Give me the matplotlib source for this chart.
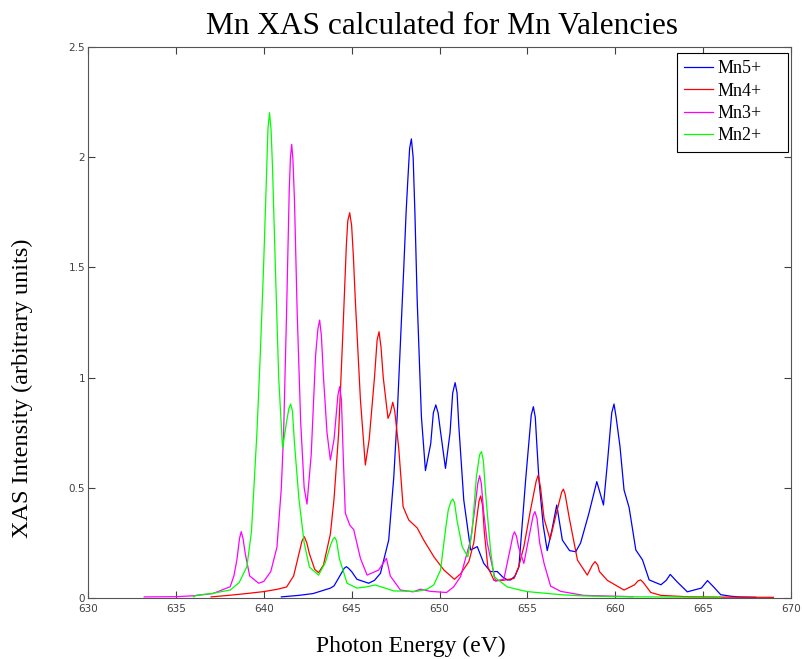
import matplotlib
matplotlib.use("Agg")
import matplotlib.pyplot as plt

# ---- data ----
mn5_E = [641.0, 642.0, 642.8, 643.2, 643.8, 644.0, 644.4, 644.58, 644.7, 644.82, 645.0, 645.3, 645.97,
         646.3, 646.64, 647.11, 647.4, 647.59, 647.8, 647.97, 648.1, 648.2, 648.3, 648.4, 648.5, 648.6,
         648.73, 648.97, 649.2, 649.5, 649.65, 649.79, 649.92, 650.05, 650.34, 650.6, 650.75, 650.89,
         651.0, 651.1, 651.38, 651.77, 652.15, 652.52, 652.9, 653.29, 653.6, 653.86, 654.05, 654.3,
         654.52, 654.9, 655.1, 655.22, 655.34, 655.45, 655.55, 655.66, 655.9, 656.13, 656.4, 656.67,
         656.99, 657.4, 657.75, 658.03, 658.5, 658.95, 659.33, 659.55, 659.8, 659.93, 660.05, 660.27,
         660.5, 660.79, 661.17, 661.55, 661.93, 662.6, 662.9, 663.13, 663.5, 664.1, 664.9, 665.25,
         665.6, 666.0, 666.58, 667.0, 668.0]
mn5_I = [0.005, 0.012, 0.02, 0.03, 0.045, 0.055, 0.11, 0.135, 0.142, 0.135, 0.12, 0.085, 0.067,
         0.08, 0.112, 0.263, 0.55, 0.823, 1.2, 1.503, 1.75, 1.9, 2.04, 2.083, 2.0, 1.75,
         1.352, 0.823, 0.578, 0.70, 0.84, 0.876, 0.84, 0.76, 0.588, 0.75, 0.93, 0.977,
         0.93, 0.78, 0.445, 0.218, 0.233, 0.157, 0.12, 0.12, 0.095, 0.082, 0.082, 0.10,
         0.142, 0.535, 0.72, 0.83, 0.868, 0.82, 0.68, 0.535, 0.33, 0.215, 0.31, 0.422,
         0.263, 0.215, 0.21, 0.25, 0.384, 0.528, 0.422, 0.61, 0.84, 0.88, 0.82, 0.687,
         0.49, 0.41, 0.218, 0.173, 0.082, 0.06, 0.08, 0.107, 0.075, 0.028, 0.045, 0.079,
         0.05, 0.015, 0.008, 0.005, 0.003]

mn4_E = [637.0, 638.0, 639.0, 640.0, 640.8, 641.3, 641.7, 642.0, 642.18, 642.31, 642.45, 642.6, 642.9,
         643.12, 643.4, 643.79, 644.0, 644.26, 644.5, 644.7, 644.78, 644.89, 645.0, 645.1, 645.21,
         645.5, 645.78, 646.0, 646.3, 646.45, 646.56, 646.67, 646.8, 647.07, 647.2, 647.34, 647.45,
         647.68, 647.93, 648.25, 648.73, 649.1, 649.68, 650.25, 650.85, 651.2, 651.67, 651.95, 652.1,
         652.25, 652.34, 652.45, 652.55, 652.75, 653.1, 653.6, 654.24, 654.5, 654.8, 655.18, 655.5,
         655.62, 655.75, 655.95, 656.29, 656.7, 656.95, 657.05, 657.15, 657.37, 657.85, 658.41, 658.7,
         658.85, 659.0, 659.1, 659.55, 660.5, 661.1, 661.3, 661.45, 661.6, 662.02, 662.6, 664.0, 666.0,
         669.0]
mn4_I = [0.005, 0.012, 0.02, 0.029, 0.04, 0.05, 0.1, 0.2, 0.26, 0.278, 0.25, 0.2, 0.13,
         0.115, 0.15, 0.29, 0.45, 0.747, 1.2, 1.6, 1.71, 1.748, 1.69, 1.55, 1.352,
         0.9, 0.603, 0.72, 1.0, 1.17, 1.208, 1.14, 1.0, 0.815, 0.84, 0.888, 0.85,
         0.68, 0.414, 0.354, 0.318, 0.263, 0.187, 0.127, 0.085, 0.11, 0.165, 0.25, 0.35,
         0.44, 0.463, 0.42, 0.3, 0.14, 0.08, 0.08, 0.089, 0.14, 0.233, 0.4, 0.53,
         0.558, 0.5, 0.36, 0.266, 0.4, 0.48, 0.494, 0.47, 0.369, 0.172, 0.104, 0.15,
         0.165, 0.15, 0.12, 0.08, 0.036, 0.06, 0.078, 0.082, 0.07, 0.025, 0.012, 0.006, 0.004,
         0.003]

mn3_E = [633.2, 635.0, 636.0, 637.1, 638.09, 638.3, 638.47, 638.62, 638.72, 638.82, 638.95, 639.2,
         639.71, 640.0, 640.4, 640.75, 641.0, 641.13, 641.3, 641.45, 641.52, 641.59, 641.66, 641.75,
         641.9, 642.1, 642.3, 642.46, 642.7, 642.95, 643.08, 643.18, 643.28, 643.4, 643.6, 643.79,
         644.0, 644.22, 644.32, 644.42, 644.52, 644.64, 644.9, 645.12, 645.5, 645.88, 646.2, 646.54,
         646.98, 647.2, 647.78, 648.5, 648.92, 649.5, 650.4, 650.8, 651.2, 651.77, 652.0, 652.18,
         652.28, 652.38, 652.5, 652.72, 653.19, 653.66, 654.05, 654.18, 654.27, 654.38, 654.5, 654.8,
         655.1, 655.33, 655.43, 655.55, 655.7, 655.95, 656.32, 656.9, 658.2, 660.0, 661.0]
mn3_I = [0.005, 0.006, 0.01, 0.02, 0.051, 0.1, 0.172, 0.27, 0.301, 0.27, 0.2, 0.1,
         0.067, 0.075, 0.12, 0.23, 0.5, 0.747, 1.3, 1.85, 2.0, 2.058, 1.99, 1.8,
         1.3, 0.8, 0.5, 0.426, 0.65, 1.1, 1.22, 1.261, 1.19, 1.0, 0.75, 0.626,
         0.72, 0.92, 0.959, 0.9, 0.65, 0.385, 0.33, 0.31, 0.18, 0.104, 0.115, 0.127,
         0.18, 0.1, 0.036, 0.028, 0.04, 0.03, 0.025, 0.05, 0.097, 0.263, 0.4, 0.52,
         0.555, 0.52, 0.4, 0.248, 0.076, 0.085, 0.233, 0.285, 0.3, 0.28, 0.23, 0.157,
         0.28, 0.375, 0.392, 0.36, 0.25, 0.157, 0.054, 0.03, 0.012, 0.008, 0.006]

mn2_E = [636.0, 636.19, 637.0, 638.09, 638.6, 639.04, 639.3, 639.61, 639.8, 639.99, 640.15, 640.24,
         640.33, 640.42, 640.5, 640.66, 640.85, 641.07, 641.3, 641.43, 641.53, 641.63, 641.75, 642.0,
         642.3, 642.6, 643.12, 643.5, 643.8, 643.94, 644.04, 644.14, 644.3, 644.74, 645.3, 645.8,
         646.35, 646.9, 647.4, 648.7, 649.3, 649.68, 650.06, 650.34, 650.5, 650.66, 650.76, 650.86,
         651.0, 651.29, 651.61, 651.85, 652.1, 652.28, 652.39, 652.5, 652.6, 652.72, 652.9, 653.1,
         653.86, 654.6, 655.0, 656.9, 658.0, 660.0, 666.0]
mn2_I = [0.005, 0.013, 0.02, 0.036, 0.07, 0.142, 0.3, 0.747, 1.1, 1.503, 1.9, 2.13,
         2.202, 2.12, 1.95, 1.503, 1.0, 0.679, 0.8, 0.86, 0.880, 0.85, 0.7, 0.45,
         0.25, 0.14, 0.104, 0.16, 0.24, 0.268, 0.275, 0.26, 0.18, 0.067, 0.045, 0.05,
         0.059, 0.045, 0.032, 0.03, 0.04, 0.06, 0.127, 0.309, 0.4, 0.44, 0.449, 0.43,
         0.35, 0.233, 0.187, 0.3, 0.55, 0.65, 0.664, 0.62, 0.5, 0.384, 0.22, 0.097,
         0.05, 0.036, 0.029, 0.015, 0.01, 0.006, 0.003]

series_labels = ["Mn5+", "Mn4+", "Mn3+", "Mn2+"]
series_colors = ["#0000ff", "#ff0000", "#ff00ff", "#00ff00"]

x_ticks = [630, 635, 640, 645, 650, 655, 660, 665, 670]
y_ticks = [0, 0.5, 1, 1.5, 2, 2.5]
y_tick_labels = ["0", "0.5", "1", "1.5", "2", "2.5"]

# ---- figure ----
fig = plt.figure(figsize=(8.03, 6.59), dpi=100)
ax = fig.add_axes([88/803, 1-598/659, (791-88)/803, (598-47)/659])

for E, I, lab, col in zip([mn5_E, mn4_E, mn3_E, mn2_E], [mn5_I, mn4_I, mn3_I, mn2_I],
                          series_labels, series_colors):
    ax.plot(E, I, color=col, lw=0.9, label=lab)

ax.set_xlim(630, 670)
ax.set_ylim(0, 2.5)
ax.set_xticks(x_ticks)
ax.set_xticklabels([str(t) for t in x_ticks])
ax.set_yticks(y_ticks)
ax.set_yticklabels(y_tick_labels)
ax.tick_params(direction="in", top=True, right=True, length=5, width=0.8,
               labelsize=7.5, labelcolor="#404040", color="#404040")
ax.tick_params(axis="x", pad=4)
ax.tick_params(axis="y", pad=2)
for s in ax.spines.values():
    s.set_color("#555555")
    s.set_linewidth(0.8)

serif = ["Liberation Serif", "DejaVu Serif"]
fig.text(442/803, 1-26/659, "Mn XAS calculated for Mn Valencies",
         ha="center", va="center", fontsize=22.5, family=serif)
fig.text(411/803, 1-646/659, "Photon Energy (eV)", ha="center", va="center",
         fontsize=17, family=serif)
fig.text(22/803, 1-388/659, "XAS Intensity (arbitrary units)", ha="center", va="center",
         rotation=90, fontsize=17.5, family=serif)

leg = ax.legend(loc="upper left", bbox_to_anchor=((677-88)/703, (598-53)/551, 111/703, 0.0),
                mode="expand", borderaxespad=0,
                prop={"family": serif, "size": 13}, fancybox=False, framealpha=1,
                edgecolor="black", handlelength=1.6, handletextpad=0.25,
                labelspacing=0.3, borderpad=0.4)
leg.get_frame().set_linewidth(0.8)

fig.savefig("out.png", dpi=100)
